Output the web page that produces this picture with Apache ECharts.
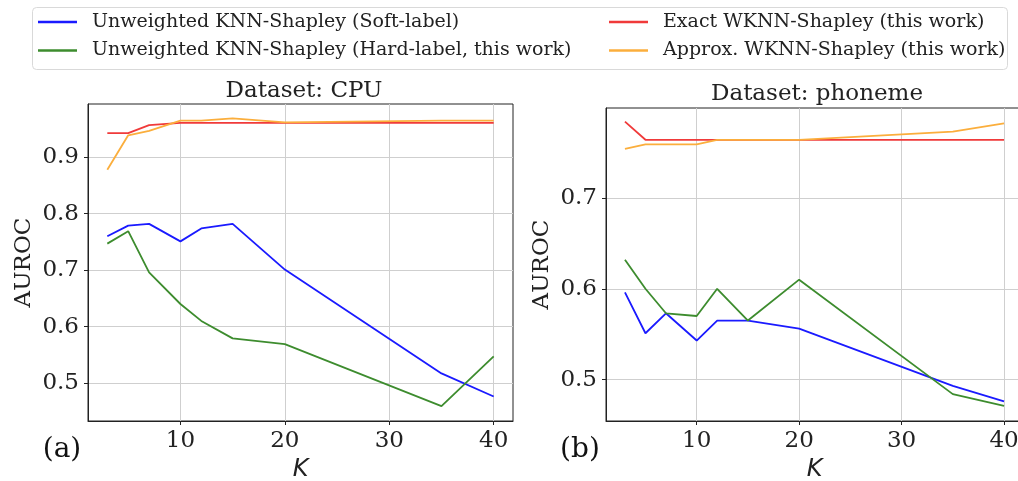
<!DOCTYPE html>
<html lang="en">
<head>
    <meta charset="UTF-8">
    <title>WKNN-Shapley AUROC</title>
    <script src="https://cdn.jsdelivr.net/npm/echarts@6/dist/echarts.min.js"></script>
    <style>
        html, body { margin: 0; padding: 0; background: #fff; }
    </style>
</head>
<body>
<div id="main" style="width: 1018px;height: 481px"></div>

<script>
    // K values (x axis)
    var kValues = [3, 5, 7, 10, 12, 15, 20, 35, 40];

    // Dataset: CPU
    var cpuSoft   = [0.760, 0.779, 0.782, 0.751, 0.774, 0.782, 0.701, 0.517, 0.476];
    var cpuHard   = [0.747, 0.769, 0.696, 0.640, 0.610, 0.579, 0.569, 0.459, 0.547];
    var cpuExact  = [0.943, 0.943, 0.957, 0.961, 0.961, 0.961, 0.961, 0.961, 0.961];
    var cpuApprox = [0.878, 0.939, 0.947, 0.965, 0.965, 0.969, 0.962, 0.965, 0.965];

    // Dataset: phoneme
    var phoSoft   = [0.596, 0.551, 0.573, 0.543, 0.565, 0.565, 0.556, 0.493, 0.476];
    var phoHard   = [0.632, 0.600, 0.573, 0.570, 0.600, 0.565, 0.610, 0.484, 0.471];
    var phoExact  = [0.784, 0.764, 0.764, 0.764, 0.764, 0.764, 0.764, 0.764, 0.764];
    var phoApprox = [0.754, 0.759, 0.759, 0.759, 0.764, 0.764, 0.764, 0.773, 0.782];

    var xTicks = [10, 20, 30, 40];
    var cpuTicks = [0.5, 0.6, 0.7, 0.8, 0.9];
    var phoTicks = [0.5, 0.6, 0.7];

    var names = [
        'Unweighted KNN-Shapley (Soft-label)',
        'Unweighted KNN-Shapley (Hard-label, this work)',
        'Exact WKNN-Shapley (this work)',
        'Approx. WKNN-Shapley (this work)'
    ];
    var colors = ['#1a1aff', '#3d8c2e', '#f03a3a', '#fbae3c'];

    var SERIF = "'DejaVu Serif', serif";
    var INK = '#222';

    function pairs(ys) {
        var out = [];
        for (var i = 0; i < kValues.length; i++) {
            out.push([kValues[i], ys[i]]);
        }
        return out;
    }

    function makeX(idx) {
        return {
            type: 'value', gridIndex: idx,
            min: 1.15, max: 41.85,
            name: 'K', nameLocation: 'middle', nameGap: 30,
            nameTextStyle: { fontFamily: "'DejaVu Sans', sans-serif", fontStyle: 'italic', fontSize: 24, color: INK },
            axisLine: { show: true, onZero: false, lineStyle: { color: INK, width: 1 } },
            axisTick: { show: true, inside: false, length: 4, customValues: xTicks, lineStyle: { color: INK } },
            axisLabel: { customValues: xTicks, fontFamily: SERIF, fontSize: 23, color: INK, margin: 9 },
            splitLine: { show: true, lineStyle: { color: '#cfcfcf', width: 1 } }
        };
    }

    function makeY(idx, min, max, ticks) {
        return {
            type: 'value', gridIndex: idx,
            min: min, max: max,
            name: 'AUROC', nameLocation: 'middle', nameGap: 52,
            nameTextStyle: { fontFamily: SERIF, fontSize: 23, color: INK },
            axisLine: { show: true, onZero: false, lineStyle: { color: INK, width: 1 } },
            axisTick: { show: true, inside: false, length: 4, customValues: ticks, lineStyle: { color: INK } },
            axisLabel: { customValues: ticks, fontFamily: SERIF, fontSize: 23, color: INK, margin: 9 },
            splitLine: { show: true, lineStyle: { color: '#cfcfcf', width: 1 } }
        };
    }

    function line(name, color, idx, ys) {
        return {
            name: name, type: 'line',
            xAxisIndex: idx, yAxisIndex: idx,
            data: pairs(ys),
            showSymbol: false, symbol: 'none',
            lineStyle: { color: color, width: 1.8 },
            itemStyle: { color: color },
            animation: false
        };
    }

    var myChart = echarts.init(document.getElementById('main'), null, { renderer: 'canvas' });

    var option = {
        backgroundColor: '#fff',
        animation: false,
        title: [
            { text: 'Dataset: CPU', left: 299, top: 75, textAlign: 'center',
              textStyle: { fontFamily: SERIF, fontSize: 23, fontWeight: 'normal', color: INK } },
            { text: 'Dataset: phoneme', left: 812, top: 78, textAlign: 'center',
              textStyle: { fontFamily: SERIF, fontSize: 23, fontWeight: 'normal', color: INK } }
        ],
        legend: [
            { data: [names[0], names[1]], orient: 'vertical', left: 38, top: 12, padding: 0,
              icon: 'rect', itemWidth: 39, itemHeight: 2.5, itemGap: 8.4,
              textStyle: { fontFamily: SERIF, fontSize: 19, color: INK, lineHeight: 20, padding: [0, 0, 0, 10] } },
            { data: [names[2], names[3]], orient: 'vertical', left: 609, top: 12, padding: 0,
              icon: 'rect', itemWidth: 39, itemHeight: 2.5, itemGap: 8.4,
              textStyle: { fontFamily: SERIF, fontSize: 19, color: INK, lineHeight: 20, padding: [0, 0, 0, 10] } }
        ],
        grid: [
            { left: 88, top: 104, width: 425, height: 317, outerBoundsMode: 'none', containLabel: false,
              show: true, borderColor: INK, borderWidth: 1, backgroundColor: 'transparent' },
            { left: 606, top: 108, width: 417, height: 313, outerBoundsMode: 'none', containLabel: false,
              show: true, borderColor: INK, borderWidth: 1, backgroundColor: 'transparent' }
        ],
        xAxis: [makeX(0), makeX(1)],
        yAxis: [makeY(0, 0.4326, 0.9945, cpuTicks), makeY(1, 0.4544, 0.799, phoTicks)],
        graphic: [
            { type: 'rect', left: 32, top: 7, z: -1,
              shape: { width: 975, height: 62, r: 4 },
              style: { fill: '#fff', stroke: '#d9d9d9', lineWidth: 1 } },
            { type: 'text', x: 62, y: 450,
              style: { text: '(a)', font: "28px 'DejaVu Serif'", fill: '#111', textAlign: 'center', textVerticalAlign: 'middle' } },
            { type: 'text', x: 580, y: 450,
              style: { text: '(b)', font: "28px 'DejaVu Serif'", fill: '#111', textAlign: 'center', textVerticalAlign: 'middle' } }
        ],
        series: [
            line(names[0], colors[0], 0, cpuSoft),
            line(names[1], colors[1], 0, cpuHard),
            line(names[2], colors[2], 0, cpuExact),
            line(names[3], colors[3], 0, cpuApprox),
            line(names[0], colors[0], 1, phoSoft),
            line(names[1], colors[1], 1, phoHard),
            line(names[2], colors[2], 1, phoExact),
            line(names[3], colors[3], 1, phoApprox)
        ]
    };

    myChart.setOption(option);
</script>
</body>
</html>
